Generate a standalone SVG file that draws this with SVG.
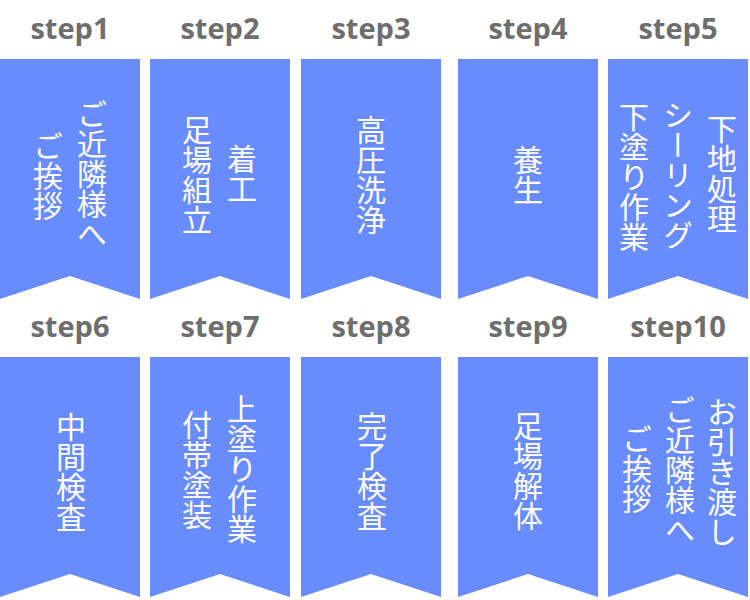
<svg xmlns="http://www.w3.org/2000/svg" xmlns:xlink="http://www.w3.org/1999/xlink" width="750" height="600" viewBox="0 0 750 600">
<style>
.bn{fill:#688cfe}
.lb{font-family:"Open Sans","Noto Sans","DejaVu Sans",sans-serif;font-weight:700;font-size:29px;fill:#6e6e6e;text-anchor:middle}
.jp{font-family:"Noto Sans CJK JP","Noto Sans CJK SC",sans-serif;font-size:30px;fill:#ffffff;writing-mode:vertical-rl;text-anchor:middle}
</style>
<defs>
<path id="banner" d="M0,0 H140 V240 L70,217 L0,240 Z"/>
</defs>
<rect width="750" height="600" fill="#ffffff"/>
<g id="step1">
<text class="lb" x="70" y="39">step1</text>
<use xlink:href="#banner" class="bn" x="0" y="59"/>
<text class="jp" x="92" y="174">ご近隣様へ</text>
<text class="jp" x="48" y="176">ご挨拶</text>
</g>
<g id="step2">
<text class="lb" x="220" y="39">step2</text>
<use xlink:href="#banner" class="bn" x="150" y="59"/>
<text class="jp" x="242" y="174">着工</text>
<text class="jp" x="197" y="175">足場組立</text>
</g>
<g id="step3">
<text class="lb" x="371" y="39">step3</text>
<use xlink:href="#banner" class="bn" x="301" y="59"/>
<text class="jp" x="371" y="175">高圧洗浄</text>
</g>
<g id="step4">
<text class="lb" x="528" y="39">step4</text>
<use xlink:href="#banner" class="bn" x="458" y="59"/>
<text class="jp" x="528" y="175">養生</text>
</g>
<g id="step5">
<text class="lb" x="678" y="39">step5</text>
<use xlink:href="#banner" class="bn" x="608" y="59"/>
<text class="jp" x="722" y="174">下地処理</text>
<text class="jp" x="678" y="175">シーリング</text>
<text class="jp" x="634" y="177">下塗り作業</text>
</g>
<g id="step6">
<text class="lb" x="70" y="337">step6</text>
<use xlink:href="#banner" class="bn" x="0" y="357"/>
<text class="jp" x="71" y="472">中間検査</text>
</g>
<g id="step7">
<text class="lb" x="220" y="337">step7</text>
<use xlink:href="#banner" class="bn" x="150" y="357"/>
<text class="jp" x="242" y="469">上塗り作業</text>
<text class="jp" x="197" y="470">付帯塗装</text>
</g>
<g id="step8">
<text class="lb" x="371" y="337">step8</text>
<use xlink:href="#banner" class="bn" x="301" y="357"/>
<text class="jp" x="372" y="471">完了検査</text>
</g>
<g id="step9">
<text class="lb" x="528" y="337">step9</text>
<use xlink:href="#banner" class="bn" x="458" y="357"/>
<text class="jp" x="528" y="471">足場解体</text>
</g>
<g id="step10">
<text class="lb" x="678" y="337">step10</text>
<use xlink:href="#banner" class="bn" x="608" y="357"/>
<text class="jp" x="722" y="472">お引き渡し</text>
<text class="jp" x="680" y="470">ご近隣様へ</text>
<text class="jp" x="637" y="469">ご挨拶</text>
</g>
</svg>
